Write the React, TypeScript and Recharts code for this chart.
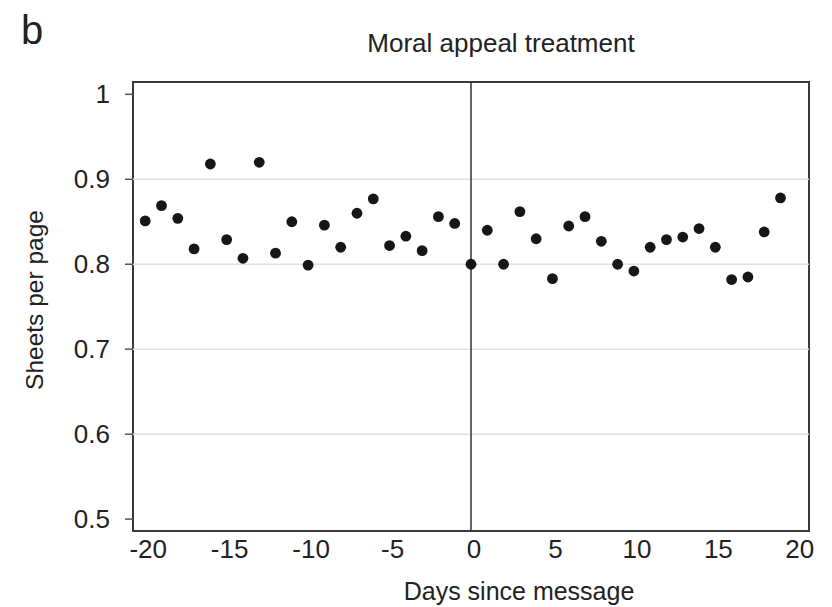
import { ScatterChart, Scatter, XAxis, YAxis, ReferenceLine, ReferenceArea } from 'recharts';

// days relative to the message, and the daily sheets per page
const days = [
  -20, -19, -18, -17, -16, -15, -14, -13, -12, -11,
  -10, -9, -8, -7, -6, -5, -4, -3, -2, -1,
  0, 1, 2, 3, 4, 5, 6, 7, 8, 9,
  10, 11, 12, 13, 14, 15, 16, 17, 18, 19,
];
const sheetsPerPage = [
  0.851, 0.869, 0.854, 0.818, 0.918, 0.829, 0.807, 0.92, 0.813, 0.85,
  0.799, 0.846, 0.82, 0.86, 0.877, 0.822, 0.833, 0.816, 0.856, 0.848,
  0.8, 0.84, 0.8, 0.862, 0.83, 0.783, 0.845, 0.856, 0.827, 0.8,
  0.792, 0.82, 0.829, 0.832, 0.842, 0.82, 0.782, 0.785, 0.838, 0.878,
];
const xTicks = [-20, -15, -10, -5, 0, 5, 10, 15, 20];
const yTicks = [0.5, 0.6, 0.7, 0.8, 0.9, 1];
const gridValues = [0.6, 0.7, 0.8, 0.9];

const X_DOMAIN = [-20.75, 20.75];
const Y_DOMAIN = [0.486, 1.0145];

const FONT = '"Liberation Sans", Arial, Helvetica, sans-serif';
const TEXT = '#222';

const data = days.map((d, i) => ({ day: d, value: sheetsPerPage[i] }));

function XTick(props: any) {
  const { x, y, payload } = props;
  return (
    <text x={x + 3} y={y + 27} textAnchor="middle" fontSize={26} fontFamily={FONT} fill={TEXT}>
      {payload.value}
    </text>
  );
}

function YTick(props: any) {
  const { x, y, payload } = props;
  return (
    <text x={x} y={y + 9} textAnchor="end" fontSize={26} fontFamily={FONT} fill={TEXT}>
      {payload.value}
    </text>
  );
}

const Dot = (props: any) => <circle cx={props.cx} cy={props.cy} r={5.4} fill="#161616" />;

export default function App() {
  return (
    <div style={{ position: 'absolute', left: 0, top: 0, width: 832, height: 607, background: '#fff' }}>
      <ScatterChart width={832} height={607} margin={{ top: 82, right: 23, bottom: 26, left: 0 }}>
        <XAxis
          type="number"
          dataKey="day"
          domain={X_DOMAIN}
          ticks={xTicks}
          interval={0}
          allowDataOverflow
          axisLine={false}
          tickLine={false}
          tickSize={0}
          tickMargin={0}
          height={50}
          tick={<XTick />}
        />
        <YAxis
          type="number"
          dataKey="value"
          domain={Y_DOMAIN}
          ticks={yTicks}
          interval={0}
          allowDataOverflow
          axisLine={false}
          tickLine={{ stroke: '#555', strokeWidth: 1.5 }}
          tickSize={8}
          tickMargin={15}
          width={133}
          tick={<YTick />}
        />
        {gridValues.map((v) => (
          <ReferenceLine key={v} y={v} stroke="#e0e0e0" strokeWidth={1.5} />
        ))}
        <ReferenceLine x={0} stroke="#333" strokeWidth={1.5} />
        <ReferenceArea
          x1={X_DOMAIN[0]}
          x2={X_DOMAIN[1]}
          y1={Y_DOMAIN[0]}
          y2={Y_DOMAIN[1]}
          fill="none"
          fillOpacity={0}
          stroke="#3a3a3a"
          strokeWidth={2}
        />
        <Scatter data={data} shape={<Dot />} isAnimationActive={false} />
      </ScatterChart>
      <svg
        width={832}
        height={607}
        style={{ position: 'absolute', left: 0, top: 0, pointerEvents: 'none' }}
        fontFamily={FONT}
        fill={TEXT}
      >
        <text x={21} y={44} fontSize={40}>b</text>
        <text x={501} y={52} fontSize={26} textAnchor="middle">Moral appeal treatment</text>
        <text x={519} y={600} fontSize={25} textAnchor="middle">Days since message</text>
        <text transform="translate(43,300) rotate(-90)" fontSize={24.5} textAnchor="middle">
          Sheets per page
        </text>
      </svg>
    </div>
  );
}
